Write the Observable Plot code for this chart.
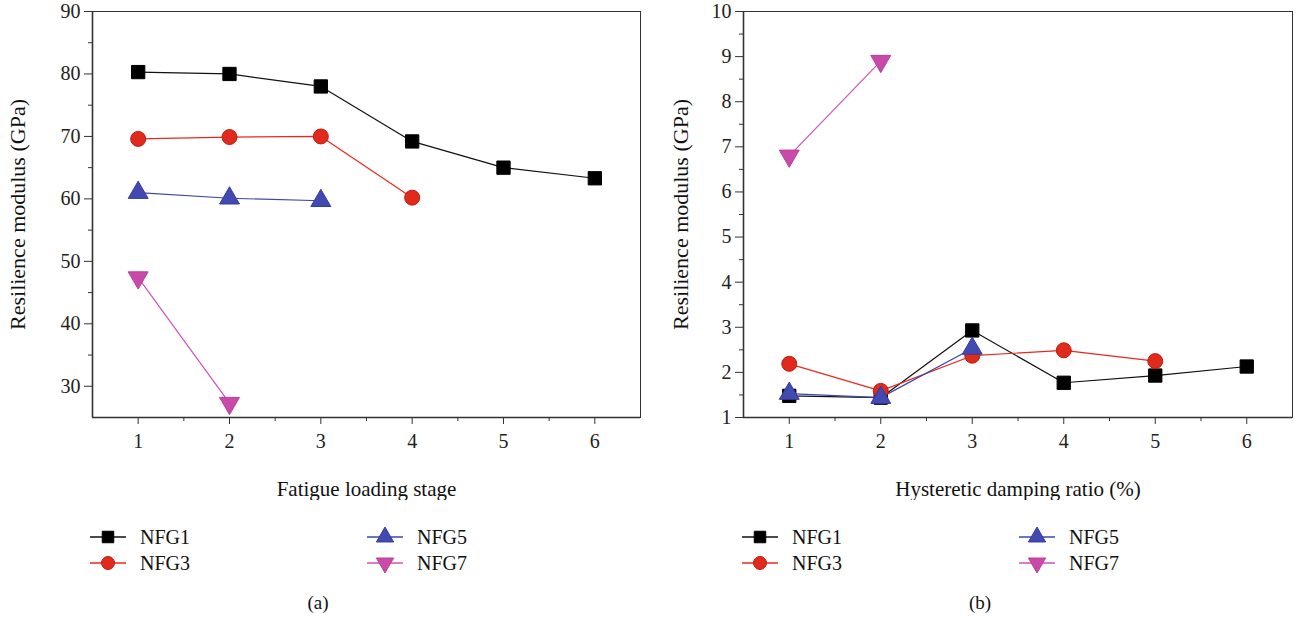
<!DOCTYPE html>
<html><head><meta charset="utf-8">
<script src="https://cdn.jsdelivr.net/npm/d3@7"></script>
<script src="https://cdn.jsdelivr.net/npm/@observablehq/plot@0.6"></script>
<style>
body{margin:0;background:#fff;font-family:"Liberation Serif",serif;}
#wrap{position:relative;width:1300px;height:620px;overflow:hidden;}
.panel{position:absolute;top:0;}
.leg{position:absolute;display:flex;align-items:center;font-size:20px;color:#111;white-space:nowrap;}
.leg svg{margin-right:14px;}
.cap{position:absolute;font-size:19px;color:#111;transform:translate(-50%,-50%);}
</style></head><body><div id="wrap"></div>
<script>
// ---- data ----
const stages = [1, 2, 3, 4, 5, 6];
const seriesNames = ["NFG1", "NFG3", "NFG5", "NFG7"];
// (a) resilience modulus (GPa) vs fatigue loading stage
const a_NFG1 = [80.3, 80.0, 78.0, 69.2, 65.0, 63.3];
const a_NFG3 = [69.6, 69.9, 70.0, 60.2];
const a_NFG5 = [61.0, 60.1, 59.7];
const a_NFG7 = [47.4, 27.3];
// (b) resilience modulus (GPa) vs hysteretic damping ratio (%)
const b_NFG1 = [1.48, 1.44, 2.93, 1.77, 1.93, 2.13];
const b_NFG3 = [2.19, 1.59, 2.37, 2.49, 2.25];
const b_NFG5 = [1.53, 1.44, 2.53];
const b_NFG7 = [6.80, 8.90];
const xTicks = [1, 2, 3, 4, 5, 6];
const xMinor = [1.5, 2.5, 3.5, 4.5, 5.5];
const aTicks = [30, 40, 50, 60, 70, 80, 90];
const aMinor = [35, 45, 55, 65, 75, 85];
const bTicks = [1, 2, 3, 4, 5, 6, 7, 8, 9, 10];
const bMinor = [1.5, 2.5, 3.5, 4.5, 5.5, 6.5, 7.5, 8.5, 9.5];

// ---- styles ----
const triangleDown = {
  draw(context, size) {
    const s3 = Math.sqrt(3);
    const y = -Math.sqrt(size / (s3 * 3));
    context.moveTo(0, -y * 2);
    context.lineTo(-s3 * y, y);
    context.lineTo(s3 * y, y);
    context.closePath();
  }
};
const styles = {
  NFG1: {line: "#111", fill: "#000", stroke: "#000", symbol: "square", r: 7.5},
  NFG3: {line: "#e8281e", fill: "#e02a1c", stroke: "#c01c10", symbol: "circle", r: 7.5},
  NFG5: {line: "#3d46ad", fill: "#4249b0", stroke: "#353c9c", symbol: "triangle", r: 7.4},
  NFG7: {line: "#d052b8", fill: "#c94aa8", stroke: "#b83e98", symbol: triangleDown, r: 7.4}
};

function rows(arrs) {
  const out = [];
  seriesNames.forEach((s, k) => arrs[k].forEach((v, i) => out.push({x: stages[i], y: v, s})));
  return out;
}

function panel({data, yDomain, yTicks, yMinor, xLabel, width, marginLeft, marginRight, yLabelDx}) {
  const marks = [
    Plot.frame({stroke: "#333", strokeWidth: 1}),
    Plot.ruleX([0.5], {stroke: "#333", strokeWidth: 1.6}),
    Plot.ruleY([yDomain[0]], {stroke: "#333", strokeWidth: 1.6}),
    Plot.axisX({ticks: xTicks, tickSize: 7, tickPadding: 9, tickFormat: d => d, label: null, fontSize: 20, stroke: "#333"}),
    Plot.axisX({ticks: xMinor, tickSize: 4, tickFormat: () => "", label: null, stroke: "#333"}),
    Plot.axisY({ticks: yTicks, tickSize: 8, tickPadding: 4, tickFormat: d => d, label: null, fontSize: 20, stroke: "#333"}),
    Plot.axisY({ticks: yMinor, tickSize: 4, tickFormat: () => "", label: null, stroke: "#333"}),
    Plot.text([xLabel], {frameAnchor: "bottom", lineAnchor: "middle", textAnchor: "middle", dy: 72, fontSize: 21, fill: "#111"}),
    Plot.text(["Resilience modulus (GPa)"], {frameAnchor: "left", textAnchor: "middle", lineAnchor: "middle", dx: yLabelDx, rotate: -90, fontSize: 22, fill: "#111"})
  ];
  for (const s of seriesNames) {
    const st = styles[s];
    const d = data.filter(r => r.s === s);
    marks.push(Plot.line(d, {x: "x", y: "y", stroke: st.line, strokeWidth: 1.2}));
  }
  for (const s of seriesNames) {
    const st = styles[s];
    const d = data.filter(r => r.s === s);
    marks.push(Plot.dot(d, {x: "x", y: "y", symbol: () => st.symbol, r: st.r, fill: st.fill, stroke: st.stroke, strokeWidth: 1}));
  }
  return Plot.plot({
    width, height: 500, marginTop: 11, marginBottom: 83, marginLeft, marginRight,
    style: {fontFamily: "Liberation Serif", fontSize: "20px", color: "#222", background: "transparent"},
    x: {domain: [0.5, 6.5]},
    y: {domain: yDomain},
    symbol: {type: "identity"},
    marks
  });
}

const wrap = document.getElementById("wrap");
const pa = panel({data: rows([a_NFG1, a_NFG3, a_NFG5, a_NFG7]), yDomain: [25, 90], yTicks: aTicks, yMinor: aMinor,
  xLabel: "Fatigue loading stage", width: 660, marginLeft: 92, marginRight: 20, yLabelDx: -75});
pa.classList.add("panel"); pa.style.left = "0px";
wrap.appendChild(pa);
const pb = panel({data: rows([b_NFG1, b_NFG3, b_NFG5, b_NFG7]), yDomain: [1, 10], yTicks: bTicks, yMinor: bMinor,
  xLabel: "Hysteretic damping ratio (%)", width: 640, marginLeft: 83, marginRight: 8, yLabelDx: -63});
pb.classList.add("panel"); pb.style.left = "660px";
wrap.appendChild(pb);

// ---- legends ----
function legendItem(name, left, top) {
  const st = styles[name];
  const div = document.createElement("div");
  div.className = "leg";
  div.style.left = left + "px";
  div.style.top = (top - 12) + "px";
  const symMap = {square: d3.symbolSquare, circle: d3.symbolCircle, triangle: d3.symbolTriangle};
  const symType = typeof st.symbol === "string" ? symMap[st.symbol] : st.symbol;
  const path = d3.symbol(symType, st.r * st.r * Math.PI * 0.75)();
  div.innerHTML = `<svg width="36" height="24" viewBox="0 0 36 24"><line x1="0" x2="36" y1="12" y2="12" stroke="${st.line}" stroke-width="1.6"/><path transform="translate(18,12)" d="${path}" fill="${st.fill}" stroke="${st.stroke}"/></svg><span>${name}</span>`;
  wrap.appendChild(div);
}
const legendRows = [537, 563];
legendItem("NFG1", 90, legendRows[0]);
legendItem("NFG3", 90, legendRows[1]);
legendItem("NFG5", 367, legendRows[0]);
legendItem("NFG7", 367, legendRows[1]);
legendItem("NFG1", 742, legendRows[0]);
legendItem("NFG3", 742, legendRows[1]);
legendItem("NFG5", 1019, legendRows[0]);
legendItem("NFG7", 1019, legendRows[1]);

function caption(t, x, y) {
  const c = document.createElement("div");
  c.className = "cap"; c.textContent = t;
  c.style.left = x + "px"; c.style.top = y + "px";
  wrap.appendChild(c);
}
caption("(a)", 318, 603);
caption("(b)", 980, 603);
</script></body></html>
